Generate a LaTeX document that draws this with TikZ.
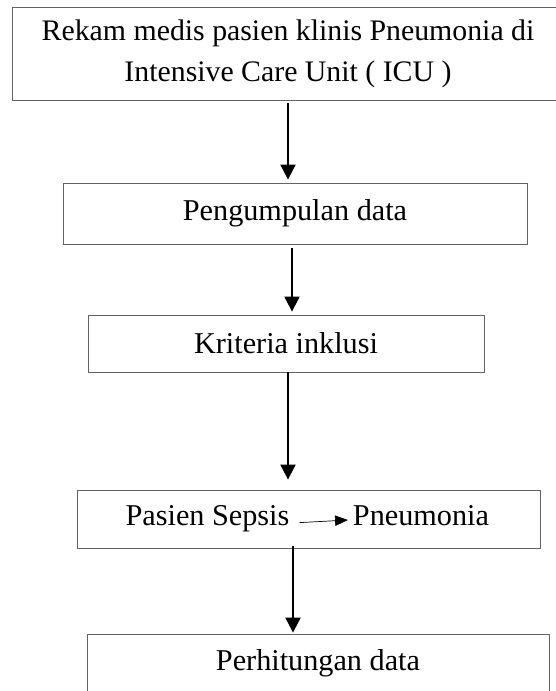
\documentclass[tikz,border=0pt]{standalone}
\usepackage{fontspec}
\setmainfont{Liberation Serif}
\usetikzlibrary{arrows.meta}
\definecolor{frame}{RGB}{100,100,100}

\begin{document}
\begin{tikzpicture}[x=0.025cm,y=-0.025cm,
  box/.style={draw=frame,line width=0.6pt,inner sep=0pt,align=center,font=\fontsize{21.5}{29}\selectfont},
  lbl/.style={inner sep=0pt,anchor=base,font=\fontsize{21.5}{29}\selectfont},
  flow/.style={black,line width=1.4pt,-{Triangle[length=0.375cm,width=0.375cm]}},
  pointer/.style={black,line width=0.5pt,-{Triangle[length=0.32cm,width=0.26cm]}}]
\useasboundingbox (0,0) rectangle (556,691);
\node[box,minimum width=13.8cm,minimum height=2.325cm,font=\fontsize{21.2}{29}\selectfont] (rekam) at (288,54) {Rekam medis pasien klinis Pneumonia di\\Intensive Care Unit ( ICU )};
\node[box,minimum width=11.6cm,minimum height=1.525cm] (kumpul) at (295,213.5) {Pengumpulan data};
\node[box,minimum width=9.9cm,minimum height=1.425cm] (kriteria) at (286,343.5) {Kriteria inklusi};
\node[box,minimum width=11.575cm,minimum height=1.45cm] (pasien) at (308.5,519) {};
\node[lbl] (sepsis) at (207.5,525) {Pasien Sepsis};
\node[lbl] (pneu) at (421,525) {Pneumonia};
\node[box,minimum width=11.55cm,minimum height=1.45cm] (hitung) at (318,663) {Perhitungan data};
\draw[flow,shorten >=0.075cm] ([yshift=-0.05cm]rekam.south) -- (rekam.south |- kumpul.north);
\draw[flow,shorten >=0.075cm] ([xshift=-0.075cm,yshift=-0.1cm]kumpul.south) -- ([xshift=-0.075cm]kumpul.south |- kriteria.north);
\draw[flow,shorten >=0.25cm] ([xshift=0.05cm]kriteria.south) -- ([xshift=0.05cm]kriteria.south |- pasien.north);
\draw[flow,shorten >=0.025cm] ([xshift=-0.3875cm,yshift=0.05cm]pasien.south) -- ([xshift=-0.3875cm]pasien.south |- hitung.north);
\draw[pointer] ([xshift=0.25cm,yshift=0.06cm]sepsis.base east) -- ([xshift=-0.12cm,yshift=0.125cm]pneu.base west);
\end{tikzpicture}
\end{document}
